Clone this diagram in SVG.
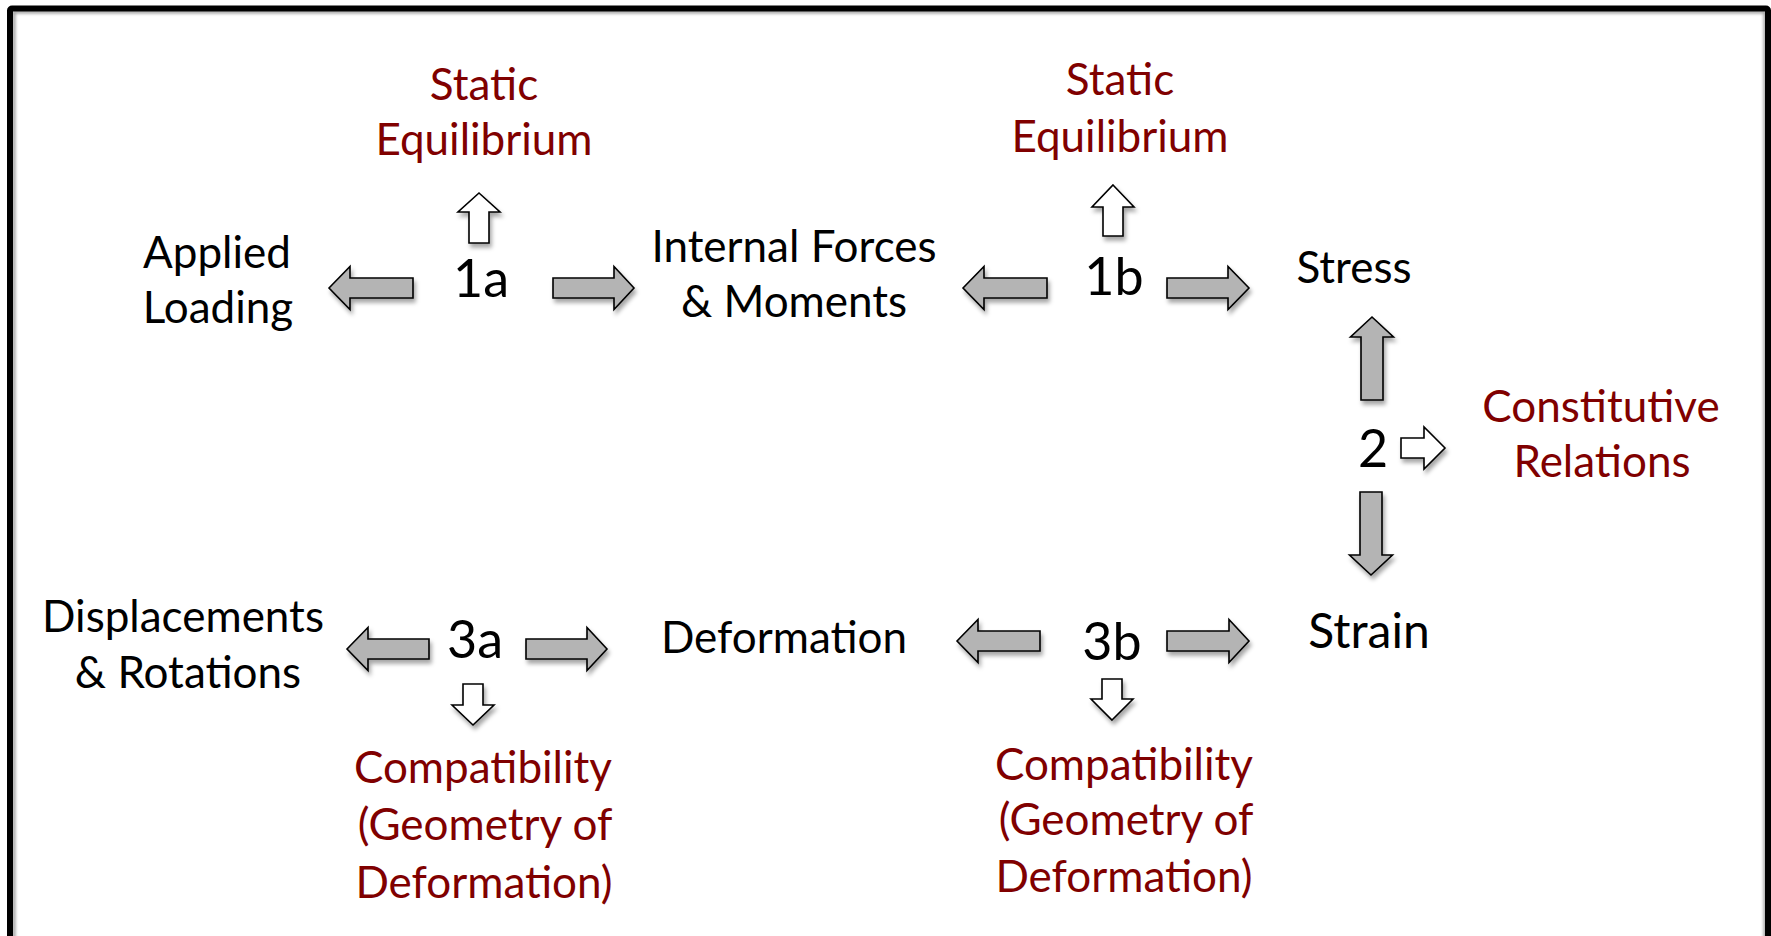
<svg xmlns="http://www.w3.org/2000/svg" width="1771" height="936" viewBox="0 0 1771 936">
  <defs>
    <style>
      text { font-family: Lato, "Liberation Sans", sans-serif; text-anchor: middle; }
      .blk { fill: #000; font-size: 44px; }
      .red { fill: #800000; font-size: 44px; }
      .num { fill: #000; font-size: 52px; }
      .ga { fill: #b4b4b4; stroke: #000; stroke-width: 1.6; stroke-linejoin: miter; filter: url(#sh); }
      .wa { fill: #fff; stroke: #000; stroke-width: 1.6; stroke-linejoin: miter; filter: url(#sh); }
    </style>
    <filter id="sh" x="-30%" y="-30%" width="160%" height="160%">
      <feDropShadow dx="2" dy="4" stdDeviation="2" flood-color="#000" flood-opacity="0.35"/>
    </filter>
    <filter id="blur"><feGaussianBlur stdDeviation="1.5"/></filter>
  </defs>
  <rect width="1771" height="936" fill="#fff"/>
  <g id="frame">
    <rect x="14" y="12" width="1751" height="1000" fill="none" stroke="#999" stroke-width="3" filter="url(#blur)"/>
    <rect x="10" y="8.5" width="1758" height="1000" rx="2" fill="none" stroke="#000" stroke-width="6"/>
  </g>

  <g id="connectors">
    <path class="ga" d="M329,288 L350,266.5 L350,278 L413,278 L413,298 L350,298 L350,309.5 Z"/>
    <path class="ga" d="M634,288 L614,266.5 L614,278 L553,278 L553,298 L614,298 L614,309.5 Z"/>
    <path class="ga" d="M963,288 L984,266.5 L984,278 L1047,278 L1047,298 L984,298 L984,309.5 Z"/>
    <path class="ga" d="M1249,288 L1228,266.5 L1228,278 L1167,278 L1167,298 L1228,298 L1228,309.5 Z"/>
    <path class="ga" d="M347,649 L368,627.5 L368,639 L429,639 L429,659 L368,659 L368,670.5 Z"/>
    <path class="ga" d="M607,649 L587,627.5 L587,639 L526,639 L526,659 L587,659 L587,670.5 Z"/>
    <path class="ga" d="M957,641 L978,619.5 L978,631 L1040,631 L1040,651 L978,651 L978,662.5 Z"/>
    <path class="ga" d="M1249,641 L1229,619.5 L1229,631 L1167,631 L1167,651 L1229,651 L1229,662.5 Z"/>
    <path class="ga" d="M1372,317 L1393.5,337 L1383,337 L1383,400 L1361,400 L1361,337 L1350.5,337 Z"/>
    <path class="ga" d="M1371,575 L1392.5,555 L1382,555 L1382,492 L1360,492 L1360,555 L1349.5,555 Z"/>
    <path class="wa" d="M479,193 L500,212 L489,212 L489,243 L469,243 L469,212 L458,212 Z"/>
    <path class="wa" d="M1113,185 L1134,207 L1123,207 L1123,236 L1103,236 L1103,207 L1092,207 Z"/>
    <path class="wa" d="M1445,448 L1424,427 L1424,438 L1401,438 L1401,458 L1424,458 L1424,469 Z"/>
    <path class="wa" d="M473,725 L494,705 L483,705 L483,684 L463,684 L463,705 L452,705 Z"/>
    <path class="wa" d="M1112,720 L1133,699 L1122,699 L1122,679 L1102,679 L1102,699 L1091,699 Z"/>
  </g>

  <g id="static-eq-1a"><text class="red" x="484" y="100">Static</text><text class="red" x="484" y="155">Equilibrium</text></g>
  <g id="static-eq-1b"><text class="red" x="1120" y="95">Static</text><text class="red" x="1120" y="152">Equilibrium</text></g>
  <g id="applied-loading"><text class="blk" x="217" y="268">Applied</text><text class="blk" x="218" y="323">Loading</text></g>
  <g id="step-1a"><text class="num" x="481" y="297">1a</text></g>
  <g id="internal-forces"><text class="blk" x="794" y="262">Internal Forces</text><text class="blk" x="794" y="317">&amp; Moments</text></g>
  <g id="step-1b"><text class="num" x="1114" y="295">1b</text></g>
  <g id="stress"><text class="blk" x="1354" y="283">Stress</text></g>
  <g id="step-2"><text class="num" x="1373" y="467">2</text></g>
  <g id="constitutive"><text class="red" x="1601" y="422">Constitutive</text><text class="red" x="1602" y="477">Relations</text></g>
  <g id="displacements"><text class="blk" x="183" y="632">Displacements</text><text class="blk" x="188" y="688">&amp; Rotations</text></g>
  <g id="step-3a"><text class="num" x="475" y="658">3a</text></g>
  <g id="deformation"><text class="blk" x="784" y="653">Deformation</text></g>
  <g id="step-3b"><text class="num" x="1112" y="660">3b</text></g>
  <g id="strain"><text class="blk" x="1369" y="648" style="font-size:48px">Strain</text></g>
  <g id="compat-3a"><text class="red" x="483" y="783">Compatibility</text><text class="red" x="485" y="840">(Geometry of</text><text class="red" x="484" y="898">Deformation)</text></g>
  <g id="compat-3b"><text class="red" x="1124" y="780">Compatibility</text><text class="red" x="1126" y="835">(Geometry of</text><text class="red" x="1124" y="892">Deformation)</text></g>
</svg>
